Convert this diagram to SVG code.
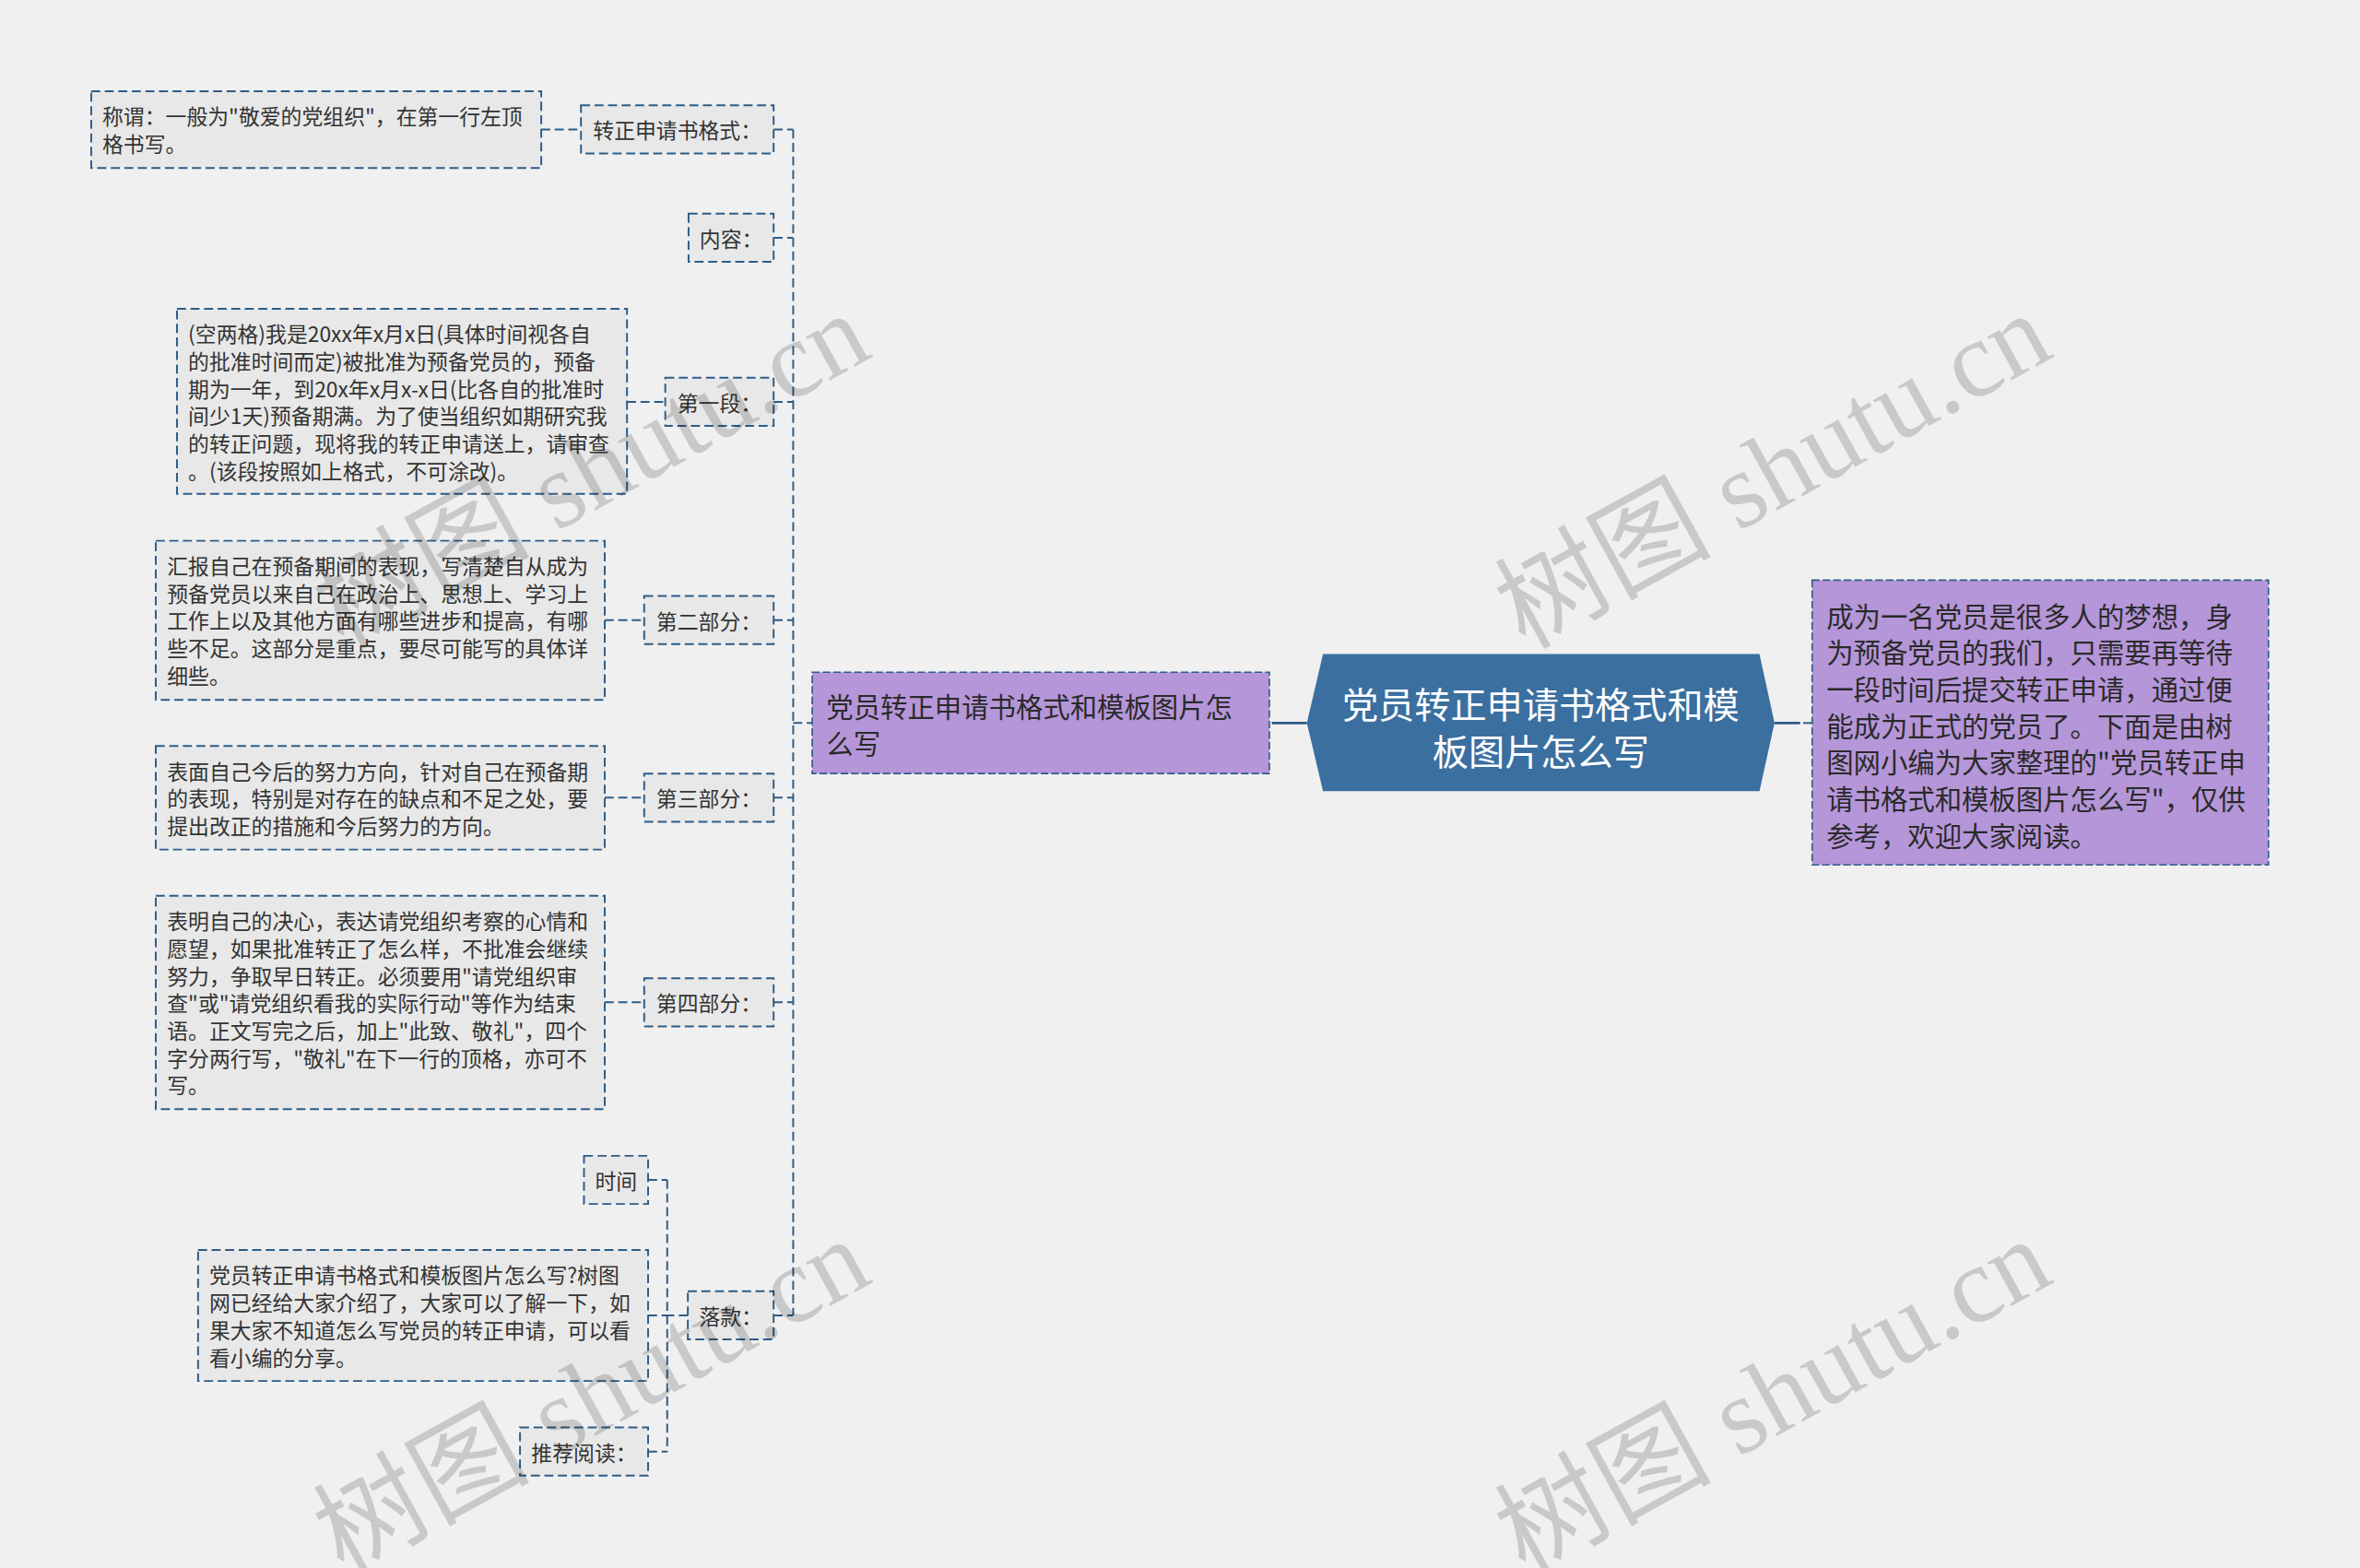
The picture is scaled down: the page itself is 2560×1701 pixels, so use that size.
<svg xmlns="http://www.w3.org/2000/svg" width="2560" height="1701" viewBox="0 0 2560 1701">
<style>
.bg{fill:#f0f0f0}
.box{fill:#e8e8e8;stroke:#2d5c86;stroke-width:1.2;stroke-dasharray:6 3}
.pbox{fill:#b596d8;stroke:#2d5c86;stroke-width:1;stroke-dasharray:5 2}
.ctr{fill:#3a6fa0}
.c{fill:none;stroke:#2d5c86;stroke-width:1.2;stroke-dasharray:6 3}
.cs{fill:none;stroke:#2d5c86;stroke-width:1.6}
.t{font-family:"Microsoft YaHei","Noto Sans CJK SC","Noto Sans",sans-serif;font-size:14px;fill:#333333;dominant-baseline:central}
.tm{text-anchor:middle}
.tp{font-family:"Microsoft YaHei","Noto Sans CJK SC","Noto Sans",sans-serif;font-size:18px;fill:#2a2a2a;dominant-baseline:central}
.tc{font-family:"Microsoft YaHei","Noto Sans CJK SC","Noto Sans",sans-serif;font-size:24px;fill:#ffffff;dominant-baseline:central;text-anchor:middle}
.wm{font-family:"Liberation Serif","Noto Sans CJK SC",serif;font-size:72px;fill:#000000;fill-opacity:0.16}
</style>
<rect class="bg" x="0" y="0" width="2560" height="1701"/>
<g transform="scale(1.632653)">
<g id="connectors">
<path class="c" d="M527 86V874M514 86H527M514 158H527M514 267H527M514 412H527M514 530H527M514 666H527M514 874H527M527 480.4H539.6"/>
<path class="c" d="M359.6 86H386M416.6 267H442M401.8 412H428M401.8 530H428M401.8 666H428"/>
<path class="c" d="M457 874H443.3M443.3 784V964.5M430.6 784H443.3M430.6 874H443.3M430.6 964.5H443.3"/>
<path class="cs" d="M845 480.4H868.3M1179 480.4H1196"/>
<path class="c" d="M1198 480.4H1204"/>
</g>
<g id="center">
<polygon class="ctr" points="868.3,480.4 879,434.5 1169,434.5 1179,480.4 1169,525.7 879,525.7"/>
<text class="tc" x="1023.7" y="466.5">党员转正申请书格式和模</text>
<text class="tc" x="1023.7" y="498.2">板图片怎么写</text>
</g>
<g id="intro">
<rect class="pbox" x="1204" y="385.5" width="303.2" height="189.2"/>
<text class="tp" x="1213.5" y="408.3">成为一名党员是很多人的梦想，身</text>
<text class="tp" x="1213.5" y="432.6">为预备党员的我们，只需要再等待</text>
<text class="tp" x="1213.5" y="456.9">一段时间后提交转正申请，通过便</text>
<text class="tp" x="1213.5" y="481.2">能成为正式的党员了。下面是由树</text>
<text class="tp" x="1213.5" y="505.5">图网小编为大家整理的"党员转正申</text>
<text class="tp" x="1213.5" y="529.8">请书格式和模板图片怎么写"，仅供</text>
<text class="tp" x="1213.5" y="554.1">参考，欢迎大家阅读。</text>
</g>
<g id="topic">
<rect class="pbox" x="539.6" y="446.7" width="303.8" height="67.3"/>
<text class="tp" x="549" y="468.5">党员转正申请书格式和模板图片怎</text>
<text class="tp" x="549" y="492.8">么写</text>
</g>
<g id="label-geshi">
<rect class="box" x="386" y="70" width="128" height="32"/>
<text class="t tm" x="450" y="86">转正申请书格式：</text>
</g>
<g id="content-geshi">
<rect class="box" x="60.6" y="60.6" width="299" height="51"/>
<text class="t" x="68" y="76.7">称谓：一般为"敬爱的党组织"，在第一行左顶</text>
<text class="t" x="68" y="94.9">格书写。</text>
</g>
<g id="label-neirong">
<rect class="box" x="457.5" y="142" width="56.5" height="32"/>
<text class="t tm" x="485.75" y="158">内容：</text>
</g>
<g id="label-diyiduan">
<rect class="box" x="442" y="251" width="72" height="32"/>
<text class="t tm" x="478" y="267">第一段：</text>
</g>
<g id="content-diyiduan">
<rect class="box" x="117.6" y="205.2" width="299" height="123"/>
<text class="t" x="125" y="221.3">(空两格)我是20xx年x月x日(具体时间视各自</text>
<text class="t" x="125" y="239.5">的批准时间而定)被批准为预备党员的，预备</text>
<text class="t" x="125" y="257.7">期为一年，到20x年x月x-x日(比各自的批准时</text>
<text class="t" x="125" y="275.9">间少1天)预备期满。为了使当组织如期研究我</text>
<text class="t" x="125" y="294.1">的转正问题，现将我的转正申请送上，请审查</text>
<text class="t" x="125" y="312.3">。(该段按照如上格式，不可涂改)。</text>
</g>
<g id="label-dierbufen">
<rect class="box" x="428" y="396" width="86" height="32"/>
<text class="t tm" x="471" y="412">第二部分：</text>
</g>
<g id="content-dierbufen">
<rect class="box" x="103.5" y="359.3" width="298.3" height="105.7"/>
<text class="t" x="111" y="375.4">汇报自己在预备期间的表现，写清楚自从成为</text>
<text class="t" x="111" y="393.6">预备党员以来自己在政治上、思想上、学习上</text>
<text class="t" x="111" y="411.8">工作上以及其他方面有哪些进步和提高，有哪</text>
<text class="t" x="111" y="430">些不足。这部分是重点，要尽可能写的具体详</text>
<text class="t" x="111" y="448.2">细些。</text>
</g>
<g id="label-disanbufen">
<rect class="box" x="428" y="514" width="86" height="32"/>
<text class="t tm" x="471" y="530">第三部分：</text>
</g>
<g id="content-disanbufen">
<rect class="box" x="103.5" y="495.7" width="298.3" height="68.8"/>
<text class="t" x="111" y="511.8">表面自己今后的努力方向，针对自己在预备期</text>
<text class="t" x="111" y="530">的表现，特别是对存在的缺点和不足之处，要</text>
<text class="t" x="111" y="548.2">提出改正的措施和今后努力的方向。</text>
</g>
<g id="label-disibufen">
<rect class="box" x="428" y="650" width="86" height="32"/>
<text class="t tm" x="471" y="666">第四部分：</text>
</g>
<g id="content-disibufen">
<rect class="box" x="103.5" y="595.2" width="298.3" height="141.8"/>
<text class="t" x="111" y="611.4">表明自己的决心，表达请党组织考察的心情和</text>
<text class="t" x="111" y="629.6">愿望，如果批准转正了怎么样，不批准会继续</text>
<text class="t" x="111" y="647.8">努力，争取早日转正。必须要用"请党组织审</text>
<text class="t" x="111" y="666">查"或"请党组织看我的实际行动"等作为结束</text>
<text class="t" x="111" y="684.2">语。正文写完之后，加上"此致、敬礼"，四个</text>
<text class="t" x="111" y="702.4">字分两行写，"敬礼"在下一行的顶格，亦可不</text>
<text class="t" x="111" y="720.6">写。</text>
</g>
<g id="label-luokuan">
<rect class="box" x="457" y="858" width="57" height="32"/>
<text class="t tm" x="485.5" y="874">落款：</text>
</g>
<g id="label-shijian">
<rect class="box" x="388" y="768" width="42.6" height="32"/>
<text class="t tm" x="409.3" y="784">时间</text>
</g>
<g id="content-luokuan">
<rect class="box" x="131.6" y="830.6" width="299" height="87"/>
<text class="t" x="139" y="846.7">党员转正申请书格式和模板图片怎么写?树图</text>
<text class="t" x="139" y="864.9">网已经给大家介绍了，大家可以了解一下，如</text>
<text class="t" x="139" y="883.1">果大家不知道怎么写党员的转正申请，可以看</text>
<text class="t" x="139" y="901.3">看小编的分享。</text>
</g>
<g id="label-tuijian">
<rect class="box" x="345.5" y="948.5" width="85.1" height="32"/>
<text class="t tm" x="388" y="964.5">推荐阅读：</text>
</g>
<g id="watermarks">
<text class="wm" transform="translate(228 432) rotate(-29)">树图 shutu.cn</text>
<text class="wm" transform="translate(1013 432) rotate(-29)">树图 shutu.cn</text>
<text class="wm" transform="translate(228 1047) rotate(-29)">树图 shutu.cn</text>
<text class="wm" transform="translate(1013 1047) rotate(-29)">树图 shutu.cn</text>
</g>
</g>
</svg>
